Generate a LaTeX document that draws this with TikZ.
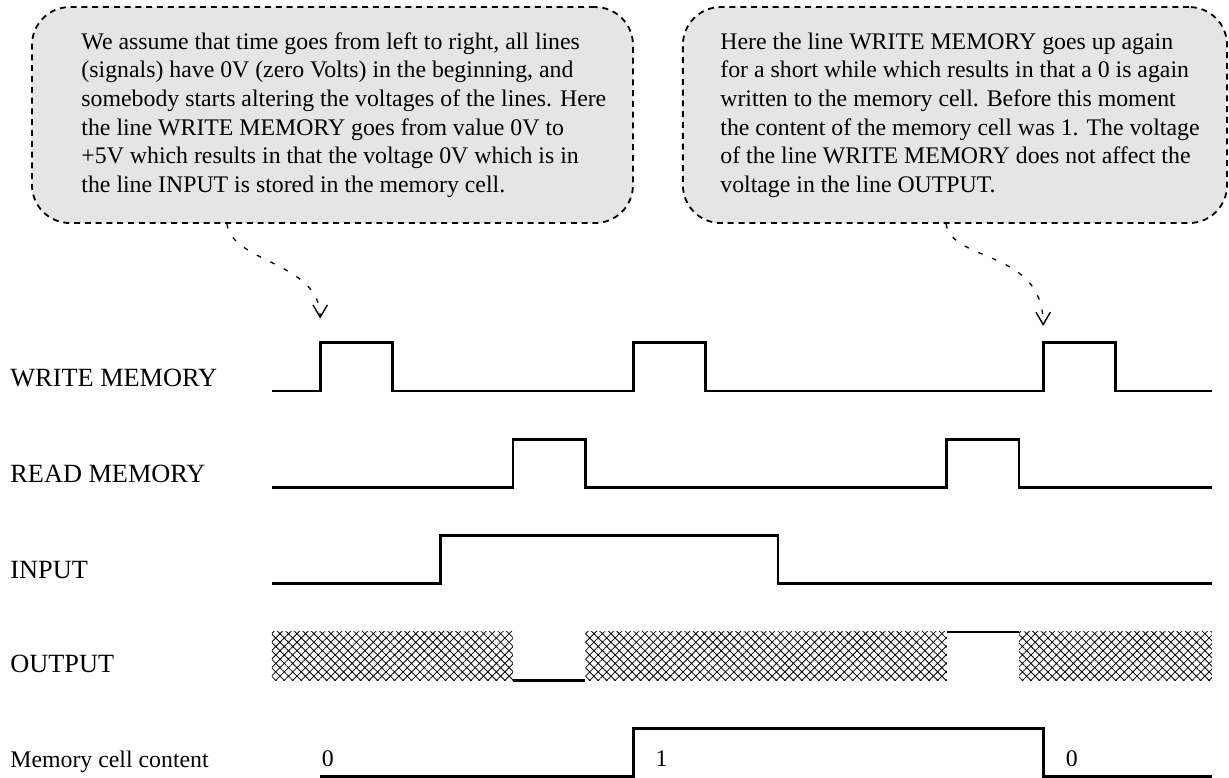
\documentclass[tikz,border=0pt]{standalone}
\usepackage{fontspec}
\setmainfont{Liberation Serif}
\usepackage{tikz}
\usetikzlibrary{positioning,arrows.meta,patterns.meta,calc}

\begin{document}
\begin{tikzpicture}[
  x=12.05pt, y=12.05pt,
  sig/.style={line width=1.4pt},
  note/.style={draw, dash pattern=on 3pt off 2.4pt, line width=0.9pt, rounded corners=19pt, fill=black!10, minimum height=108pt},
  notetext/.style={align=left, inner sep=0pt, font=\fontsize{11.9}{14.3}\selectfont},
  lbl/.style={anchor=base west, inner sep=0pt, font=\fontsize{13.15}{15}\selectfont},
  digit/.style={anchor=base west, inner sep=0pt, font=\fontsize{11.9}{14}\selectfont},
  hint/.style={-{Straight Barb[length=6.2pt,width=7.2pt,line width=0.7pt]}, dash pattern=on 2.3pt off 5.2pt, line width=0.65pt},
  undef/.style={pattern={Hatch[angle=45,distance=3pt,line width=0.4pt]}},
]
\useasboundingbox (-11.286,-16.058) rectangle (39.71,16.224);

\node[note, minimum width=300.5pt] (note1) at (2.51,11.45) {};
\node[notetext, right=25pt of note1.west] (txt1) {We assume that time goes from left to right, all lines\\
(signals) have 0V (zero Volts) in the beginning, and\\
somebody starts altering the voltages of the lines. Here\\
the line WRITE MEMORY goes from value 0V to\\
+5V which results in that the voltage 0V which is in\\
the line INPUT is stored in the memory cell.};
\node[note, minimum width=272.1pt] (note2) at (28.34,11.45) {};
\node[notetext, right=19pt of note2.west] (txt2) {Here the line WRITE MEMORY goes up again\\
for a short while which results in that a 0 is again\\
written to the memory cell. Before this moment\\
the content of the memory cell was 1. The voltage\\
of the line WRITE MEMORY does not affect the\\
voltage in the line OUTPUT.};

\node[lbl] (wm) at (-10.87,0.18) {WRITE MEMORY};
\node[lbl] (rm) at (-10.87,-3.78) {READ MEMORY};
\node[lbl] (in) at (-10.87,-7.76) {INPUT};
\node[lbl] (out) at (-10.87,-11.70) {OUTPUT};
\node[lbl, font=\fontsize{11.9}{14}\selectfont] (mem) at (-10.87,-15.64) {Memory cell content};

\draw[sig] (0,0) -- (2,0) -- (2,2) -- (5,2) -- (5,0) -- (15,0) -- (15,2) -- (18,2) -- (18,0)
  -- (32,0) -- (32,2) -- (35,2) -- (35,0) -- (39,0);
\draw[sig] (0,-4) -- (10,-4) -- (10,-2) -- (13,-2) -- (13,-4) -- (28,-4) -- (28,-2) -- (31,-2)
  -- (31,-4) -- (39,-4);
\draw[sig] (0,-8) -- (7,-8) -- (7,-6) -- (21,-6) -- (21,-8) -- (39,-8);

\path[undef] (0,-12) rectangle (10,-10);
\path[undef] (13,-12) rectangle (28,-10);
\path[undef] (31,-12) rectangle (39,-10);
\draw[sig] (10,-12) -- (13,-12);
\draw[sig] (28,-10) -- (31,-10);

\draw[sig] (2,-16) -- (15,-16) -- (15,-14) -- (32,-14) -- (32,-16) -- (39,-16);
\node[digit] (m0) at (2.05,-15.6) {0};
\node[digit] (m1) at (15.9,-15.6) {1};
\node[digit] (m2) at (32.92,-15.6) {0};

\coordinate (tip1) at (2,3.0);
\coordinate (tip2) at (32,2.7);
\draw[hint] ($(note1.south)+(-4.38,0)$) .. controls +(0.21,-1.62) and +(0,2.35) .. (tip1);
\draw[hint] ($(note2.south)+(-0.37,0)$) .. controls +(0.25,-1.62) and +(0,3.2) .. (tip2);
\end{tikzpicture}
\end{document}
